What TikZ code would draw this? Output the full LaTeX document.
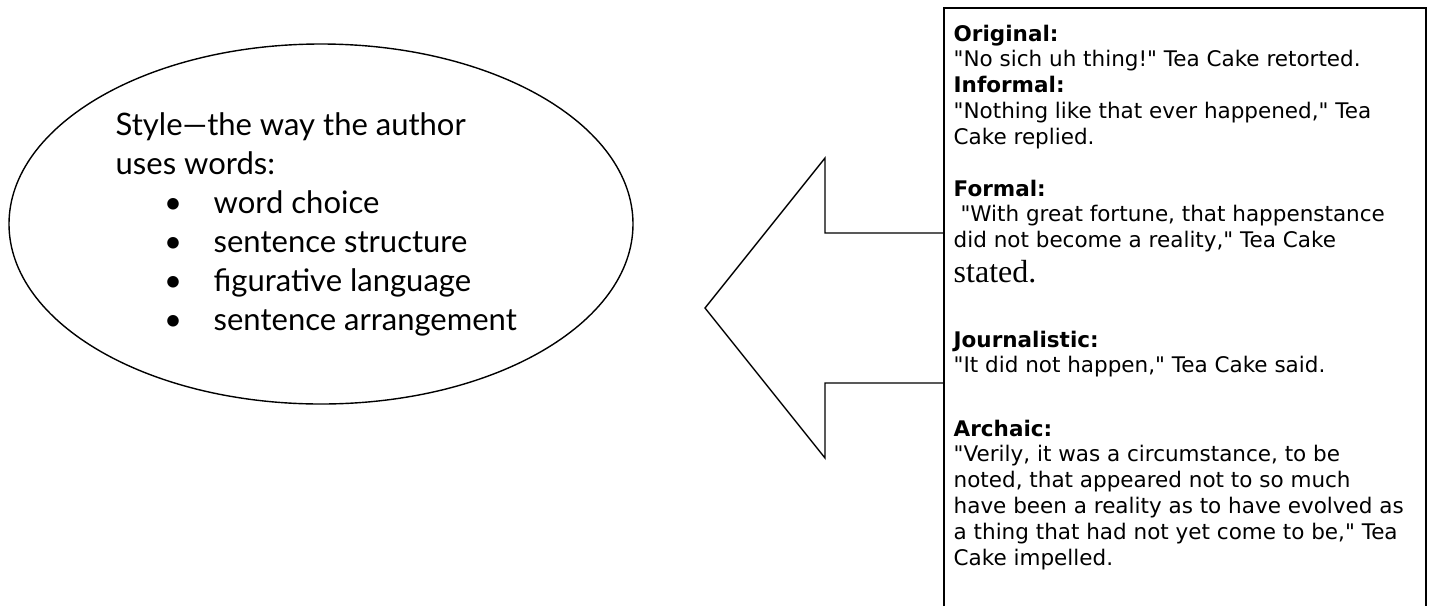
\documentclass[tikz,border=0pt]{standalone}
\usepackage{fontspec}
\usetikzlibrary{shapes.geometric}
\newfontfamily\bubblefont{Lato}
\newfontfamily\quotefont{DejaVu Sans}
\newfontfamily\timesfont{Liberation Serif}

\tikzset{
  bubbletext/.style={anchor=base west, inner sep=0pt, font=\bubblefont\fontsize{31}{38}\selectfont},
  quoteline/.style={anchor=base west, inner sep=0pt, font=\quotefont\fontsize{21.5}{26}\selectfont},
  quotehead/.style={quoteline, font=\quotefont\bfseries\fontsize{21.5}{26}\selectfont},
}

\begin{document}
\begin{tikzpicture}[x=1pt, y=-1pt, line width=1.4pt]
  \useasboundingbox (0,0) rectangle (1430,606);

  % left bubble
  \node[draw, ellipse, minimum width=624pt, minimum height=360pt] at (321,224) (bubble) {};
  \node[bubbletext] at (115,135) (title1) {Style—the way the author};
  \node[bubbletext] at (115,174) (title2) {uses words:};
  \foreach \y/\txt [count=\i] in {213/word choice, 252/sentence structure, 291/figurative language, 330/sentence arrangement} {
    \node[bubbletext, anchor=base] at (173,\y) (dot\i) {•};
    \node[bubbletext] at (213,\y) (item\i) {\txt};
  }

  % block arrow
  \draw[line join=miter] (944,233) -- (825,233) -- (825,158) -- (705,308) -- (825,458) -- (825,383) -- (944,383);

  % box with the versions
  \draw[line width=2pt] (944,606) -- (944,8) -- (1426,8) -- (1426,606);
  \foreach \y/\txt [count=\i] in {41/Original:, 92.6/Informal:, 196/Formal:, 347/Journalistic:, 436/Archaic:}
    \node[quotehead] at (953,\y) (head\i) {\txt};
  \foreach \y/\txt [count=\i] in {
      66.8/{"No sich uh thing!" Tea Cake retorted.},
      118.4/{"Nothing like that ever happened," Tea},
      144.2/{Cake replied.},
      221.8/{\ "With great fortune, that happenstance},
      247.6/{did not become a reality," Tea Cake},
      372.8/{"It did not happen," Tea Cake said.},
      461.8/{"Verily, it was a circumstance, to be},
      487.6/{noted, that appeared not to so much},
      513.4/{have been a reality as to have evolved as},
      539.2/{a thing that had not yet come to be," Tea},
      565/{Cake impelled.}}
    \node[quoteline] at (953,\y) (line\i) {\txt};
  \node[quoteline, font=\timesfont\fontsize{32}{36}\selectfont] at (953,282) (stated) {stated.};
\end{tikzpicture}
\end{document}
